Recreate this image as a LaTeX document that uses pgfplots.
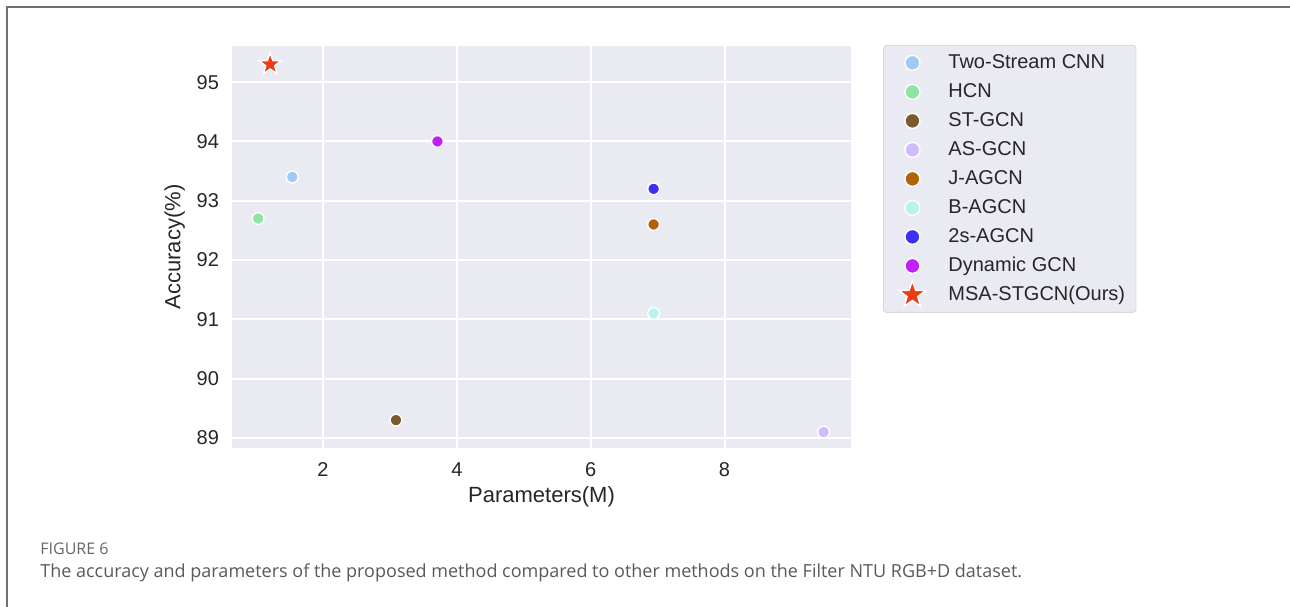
\documentclass[border=0pt]{standalone}
\usepackage{pgfplots}
\pgfplotsset{compat=1.18}
\usepackage{fontspec}
\setmainfont{Liberation Sans}
\newfontfamily\capfont{Open Sans}
\definecolor{bgc}{HTML}{EAEAF2}
\definecolor{cTwo}{HTML}{A1C9F4}
\definecolor{cHCN}{HTML}{8DE5A1}
\definecolor{cST}{HTML}{7A5A2E}
\definecolor{cAS}{HTML}{D0BBFF}
\definecolor{cJ}{HTML}{B1620B}
\definecolor{cB}{HTML}{B9F2F0}
\definecolor{c2s}{HTML}{3C32F5}
\definecolor{cDyn}{HTML}{C21FFA}
\definecolor{cStar}{HTML}{EB3C14}
\definecolor{frame}{HTML}{707070}
\pgfdeclareplotmark{fstar}{%
  \pgfpathmoveto{\pgfpointpolar{90}{\pgfplotmarksize}}%
  \pgfpathlineto{\pgfpointpolar{126}{0.4\pgfplotmarksize}}%
  \pgfpathlineto{\pgfpointpolar{162}{\pgfplotmarksize}}%
  \pgfpathlineto{\pgfpointpolar{198}{0.4\pgfplotmarksize}}%
  \pgfpathlineto{\pgfpointpolar{234}{\pgfplotmarksize}}%
  \pgfpathlineto{\pgfpointpolar{270}{0.4\pgfplotmarksize}}%
  \pgfpathlineto{\pgfpointpolar{306}{\pgfplotmarksize}}%
  \pgfpathlineto{\pgfpointpolar{342}{0.4\pgfplotmarksize}}%
  \pgfpathlineto{\pgfpointpolar{18}{\pgfplotmarksize}}%
  \pgfpathlineto{\pgfpointpolar{54}{0.4\pgfplotmarksize}}%
  \pgfpathclose
  \pgfusepathqfillstroke}
\begin{document}
\begin{tikzpicture}[x=0.5bp,y=0.5bp]
\path[use as bounding box] (0,0) rectangle (1290,607);
\draw[frame, line width=0.8bp] (7,-5) -- (7,600) -- (1300,600);
\begin{axis}[
  at={(116bp,79.5bp)}, anchor=south west,
  scale only axis, width=309.5bp, height=201bp,
  xmin=0.64, xmax=9.89, ymin=88.83, ymax=95.61,
  xtick={2,4,6,8}, ytick={89,90,91,92,93,94,95},
  axis background/.style={fill=bgc},
  axis line style={draw=none},
  major tick length=0pt,
  grid=major, major grid style={white, line width=1bp},
  tick label style={font=\fontsize{10bp}{12bp}\selectfont, text=black!85},
  /pgf/number format/assume math mode=true,
  xticklabel style={yshift=-4bp},
  yticklabel style={xshift=-3bp},
  xlabel={Parameters(M)}, ylabel={Accuracy(\%)},
  label style={font=\fontsize{11bp}{13bp}\selectfont, text=black!85},
  xlabel style={yshift=2bp},
  ylabel style={yshift=-1bp},
  legend style={at={(1,1)}, anchor=north west, xshift=16bp, yshift=0.5bp,
    fill=bgc, draw=black!15, rounded corners=1.5bp,
    font=\fontsize{10bp}{12bp}\selectfont, text=black!85,
    nodes={text height=7.5bp, text depth=2bp, inner sep=2.5bp},
    inner xsep=3bp, inner ysep=1.5bp},
  legend cell align=left,
  legend image code/.code={\path[draw=none,fill=none] (-11.5bp,-2bp) rectangle (15.5bp,2bp); \path[#1,draw=none] plot[only marks] coordinates {(0,0)};},
  legend image post style={mark size=3.75bp},
  only marks,
  mark size=2.95bp,
]
\addplot[mark=*, mark options={fill=cTwo, draw=white, line width=0.7bp}] coordinates {(1.54,93.4)};
\addlegendentry{Two-Stream CNN}
\addplot[mark=*, mark options={fill=cHCN, draw=white, line width=0.7bp}] coordinates {(1.03,92.7)};
\addlegendentry{HCN}
\addplot[mark=*, mark options={fill=cST, draw=white, line width=0.7bp}] coordinates {(3.09,89.3)};
\addlegendentry{ST-GCN}
\addplot[mark=*, mark options={fill=cAS, draw=white, line width=0.7bp}] coordinates {(9.48,89.1)};
\addlegendentry{AS-GCN}
\addplot[mark=*, mark options={fill=cJ, draw=white, line width=0.7bp}] coordinates {(6.94,92.6)};
\addlegendentry{J-AGCN}
\addplot[mark=*, mark options={fill=cB, draw=white, line width=0.7bp}] coordinates {(6.94,91.1)};
\addlegendentry{B-AGCN}
\addplot[mark=*, mark options={fill=c2s, draw=white, line width=0.7bp}] coordinates {(6.94,93.2)};
\addlegendentry{2s-AGCN}
\addplot[mark=*, mark options={fill=cDyn, draw=white, line width=0.7bp}] coordinates {(3.71,94.0)};
\addlegendentry{Dynamic GCN}
\addplot[mark=fstar, mark size=5.8bp, mark options={fill=cStar, draw=white, line width=0.7bp}, legend image post style={mark size=7bp}] coordinates {(1.21,95.3)};
\addlegendentry{MSA-STGCN(Ours)}
\end{axis}
\node[anchor=base west, inner sep=0, text=black!60, font=\capfont\fontsize{8bp}{9bp}\selectfont] at (40,52) {FIGURE 6};
\node[anchor=base west, inner sep=0, text=black!65, font=\capfont\fontsize{9bp}{11bp}\selectfont] at (40,29) {The accuracy and parameters of the proposed method compared to other methods on the Filter NTU RGB+D dataset.};
\end{tikzpicture}
\end{document}
